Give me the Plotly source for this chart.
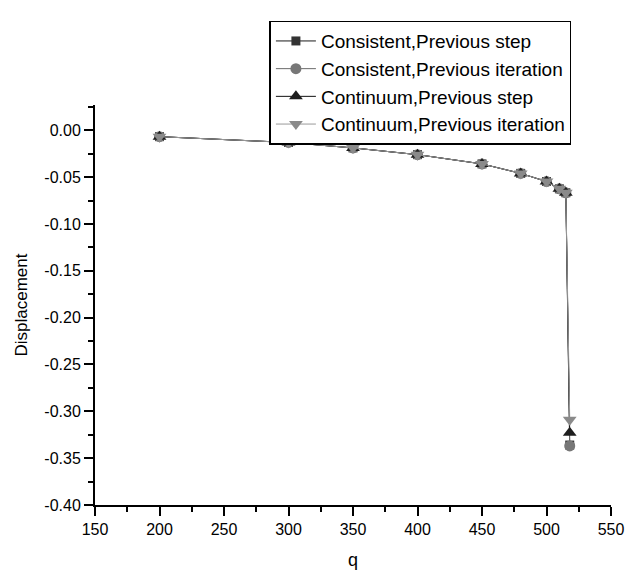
import plotly.graph_objects as go

q = [200, 300, 350, 400, 450, 480, 500, 510, 515, 518]
cons_step = [-0.0068, -0.013, -0.0188, -0.026, -0.0359, -0.046, -0.0547, -0.0625, -0.0667, -0.336]
cons_iter = [-0.0068, -0.013, -0.0188, -0.026, -0.0359, -0.046, -0.0547, -0.0625, -0.0667, -0.337]
cont_step = [-0.0068, -0.013, -0.0188, -0.026, -0.0359, -0.046, -0.0547, -0.0625, -0.0667, -0.323]
cont_iter = [-0.0068, -0.013, -0.0188, -0.026, -0.0359, -0.046, -0.0547, -0.0625, -0.0667, -0.309]

names = ["Consistent,Previous step", "Consistent,Previous iteration",
         "Continuum,Previous step", "Continuum,Previous iteration"]

x_ticks = [150, 200, 250, 300, 350, 400, 450, 500, 550]
x_ticktext = ["150", "200", "250", "300", "350", "400", "450", "500", "550"]
y_ticks = [0.0, -0.05, -0.10, -0.15, -0.20, -0.25, -0.30, -0.35, -0.40]
y_ticktext = ["0.00", "-0.05", "-0.10", "-0.15", "-0.20", "-0.25", "-0.30", "-0.35", "-0.40"]

styles = [
    dict(symbol="square", size=9, color="#333333", line="#1a1a1a"),
    dict(symbol="circle", size=11, color="#777777", line="#6a6a6a"),
    dict(symbol="triangle-up", size=12, color="#1e1e1e", line="#111111"),
    dict(symbol="triangle-down", size=12, color="#8a8a8a", line="#9a9a9a"),
]

fig = go.Figure()
for ys, nm, st in zip([cons_step, cons_iter, cont_step, cont_iter], names, styles):
    fig.add_trace(go.Scatter(
        x=q, y=ys, name=nm, mode="lines+markers",
        line=dict(color=st["line"], width=1),
        marker=dict(symbol=st["symbol"], size=st["size"], color=st["color"],
                    line=dict(width=0)),
    ))

axis_common = dict(
    showline=True, linecolor="black", linewidth=2,
    ticks="outside", ticklen=9, tickwidth=1.5, tickcolor="black",
    showgrid=False, zeroline=False, mirror=False,
    tickfont=dict(family="Liberation Sans, Arial", size=16, color="black"),
)

fig.update_layout(
    width=628, height=571,
    margin=dict(l=86, r=22, t=88, b=68),
    paper_bgcolor="white", plot_bgcolor="white",
    font=dict(family="Liberation Sans, Arial", color="black"),
    xaxis=dict(range=[150, 550], tickvals=x_ticks, ticktext=x_ticktext,
               title=dict(text="q", font=dict(size=18), standoff=16),
               minor=dict(ticks="outside", ticklen=5, tickwidth=1.5,
                          tickcolor="black", dtick=25, tick0=150),
               **axis_common),
    yaxis=dict(range=[-0.40, 0.027], tickvals=y_ticks, ticktext=y_ticktext,
               title=dict(text="Displacement", font=dict(size=17), standoff=12),
               minor=dict(ticks="outside", ticklen=5, tickwidth=1.5,
                          tickcolor="black", dtick=0.025, tick0=0),
               **axis_common),
    legend=dict(x=0.338, y=1.211, xanchor="left", yanchor="top",
                bordercolor="black", borderwidth=1.5, bgcolor="white",
                font=dict(family="Liberation Sans, Arial", size=19, color="black"),
                tracegroupgap=0, itemwidth=40),
    showlegend=True,
)

fig.write_html("out.html")
